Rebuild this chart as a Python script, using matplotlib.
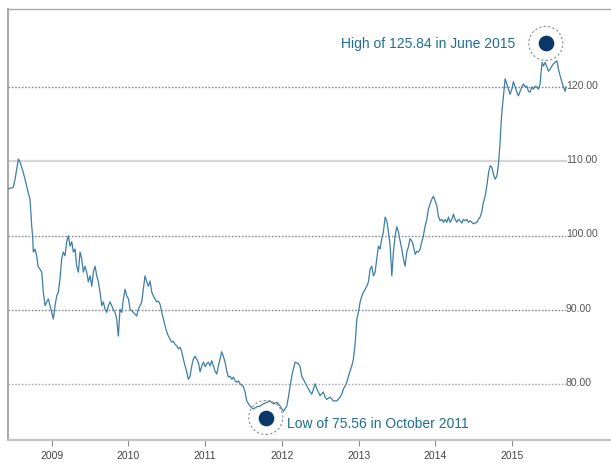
import matplotlib
matplotlib.use("Agg")
import matplotlib.pyplot as plt
import matplotlib.transforms as mtransforms

plt.rcParams["font.family"] = ["Liberation Sans", "DejaVu Sans"]

# Weekly index level, dates as decimal years
years = [
    2008.434, 2008.499, 2008.522, 2008.565, 2008.587, 2008.626, 2008.652, 2008.691, 2008.717, 2008.739,
    2008.752, 2008.760, 2008.782, 2008.804, 2008.821, 2008.847, 2008.870, 2008.890, 2008.913, 2008.935,
    2008.956, 2008.978, 2009.000, 2009.021, 2009.043, 2009.065, 2009.086, 2009.108, 2009.130, 2009.151,
    2009.173, 2009.196, 2009.216, 2009.239, 2009.261, 2009.282, 2009.304, 2009.326, 2009.347, 2009.369,
    2009.391, 2009.412, 2009.434, 2009.456, 2009.477, 2009.499, 2009.522, 2009.542, 2009.565, 2009.587,
    2009.608, 2009.630, 2009.652, 2009.673, 2009.695, 2009.717, 2009.738, 2009.760, 2009.782, 2009.803,
    2009.825, 2009.847, 2009.868, 2009.890, 2009.913, 2009.934, 2009.956, 2009.978, 2010.000, 2010.021,
    2010.064, 2010.108, 2010.129, 2010.173, 2010.216, 2010.239, 2010.259, 2010.282, 2010.304, 2010.325,
    2010.347, 2010.369, 2010.390, 2010.412, 2010.434, 2010.455, 2010.477, 2010.499, 2010.520, 2010.542,
    2010.565, 2010.585, 2010.608, 2010.630, 2010.651, 2010.673, 2010.695, 2010.716, 2010.738, 2010.760,
    2010.781, 2010.803, 2010.825, 2010.846, 2010.868, 2010.890, 2010.911, 2010.934, 2010.956, 2010.977,
    2011.000, 2011.021, 2011.042, 2011.064, 2011.086, 2011.107, 2011.129, 2011.151, 2011.172, 2011.194,
    2011.216, 2011.237, 2011.259, 2011.282, 2011.302, 2011.325, 2011.347, 2011.368, 2011.390, 2011.412,
    2011.433, 2011.455, 2011.498, 2011.520, 2011.542, 2011.585, 2011.628, 2011.673, 2011.716, 2011.759,
    2011.803, 2011.846, 2011.889, 2011.934, 2011.977, 2012.020, 2012.064, 2012.085, 2012.107, 2012.129,
    2012.150, 2012.172, 2012.215, 2012.237, 2012.259, 2012.280, 2012.325, 2012.346, 2012.368, 2012.390,
    2012.411, 2012.433, 2012.455, 2012.476, 2012.498, 2012.541, 2012.563, 2012.585, 2012.628, 2012.671,
    2012.716, 2012.759, 2012.781, 2012.802, 2012.824, 2012.846, 2012.867, 2012.889, 2012.911, 2012.932,
    2012.954, 2012.977, 2012.997, 2013.020, 2013.042, 2013.063, 2013.085, 2013.107, 2013.128, 2013.150,
    2013.172, 2013.193, 2013.215, 2013.237, 2013.258, 2013.280, 2013.302, 2013.323, 2013.346, 2013.368,
    2013.389, 2013.411, 2013.433, 2013.454, 2013.476, 2013.498, 2013.519, 2013.541, 2013.563, 2013.584,
    2013.606, 2013.628, 2013.649, 2013.671, 2013.694, 2013.714, 2013.737, 2013.759, 2013.780, 2013.802,
    2013.824, 2013.845, 2013.867, 2013.889, 2013.910, 2013.932, 2013.954, 2013.975, 2013.997, 2014.020,
    2014.040, 2014.063, 2014.085, 2014.106, 2014.128, 2014.150, 2014.171, 2014.193, 2014.215, 2014.236,
    2014.258, 2014.280, 2014.301, 2014.323, 2014.346, 2014.366, 2014.389, 2014.411, 2014.432, 2014.454,
    2014.476, 2014.497, 2014.541, 2014.562, 2014.584, 2014.606, 2014.627, 2014.649, 2014.671, 2014.692,
    2014.714, 2014.737, 2014.757, 2014.780, 2014.802, 2014.823, 2014.845, 2014.858, 2014.871, 2014.888,
    2014.910, 2014.932, 2014.953, 2014.975, 2014.997, 2015.018, 2015.040, 2015.063, 2015.083, 2015.106,
    2015.128, 2015.149, 2015.171, 2015.193, 2015.214, 2015.236, 2015.258, 2015.279, 2015.301, 2015.323,
    2015.344, 2015.366, 2015.379, 2015.392, 2015.409, 2015.432, 2015.454, 2015.475, 2015.497, 2015.519,
    2015.540, 2015.562, 2015.584, 2015.605, 2015.627, 2015.649, 2015.670, 2015.692, 2015.705,
]

index_level = [
    106.3, 106.5, 107.6, 110.3, 109.9, 108.6, 107.6, 105.9, 104.9, 101.3,
    99.8, 97.8, 98.2, 97.3, 95.9, 95.5, 95.1, 92.4, 90.6, 91.1,
    91.5, 90.6, 89.7, 88.8, 90.6, 91.9, 92.4, 94.2, 96.9, 97.8,
    97.3, 99.2, 100.0, 98.6, 99.2, 97.8, 98.2, 95.9, 95.1, 97.8,
    96.9, 95.1, 95.9, 95.1, 93.8, 94.6, 93.2, 95.1, 95.9, 94.6,
    93.8, 92.4, 90.6, 91.1, 90.1, 89.7, 90.6, 91.1, 90.6, 90.1,
    89.7, 88.8, 86.5, 90.1, 89.7, 91.5, 92.8, 91.9, 91.5, 90.1,
    89.7, 89.2, 90.1, 91.1, 94.6, 93.8, 93.2, 93.9, 92.4, 91.9,
    91.5, 91.1, 91.2, 90.8, 89.7, 88.8, 87.9, 87.1, 86.5, 86.1,
    85.7, 85.8, 85.4, 85.2, 84.8, 85.0, 84.4, 83.4, 82.5, 81.7,
    80.7, 81.1, 82.5, 83.4, 83.8, 83.4, 83.0, 81.7, 82.5, 83.0,
    82.4, 82.8, 83.0, 82.5, 83.2, 82.5, 81.8, 81.4, 82.5, 83.4,
    84.4, 83.8, 83.0, 81.8, 81.0, 81.1, 80.7, 81.0, 80.5, 80.3,
    80.5, 80.1, 79.7, 79.0, 77.8, 77.1, 76.7, 77.0, 77.1, 77.4,
    77.6, 77.8, 77.4, 77.6, 77.1, 76.4, 77.1, 78.3, 79.8, 81.1,
    82.1, 83.0, 82.8, 82.4, 81.1, 80.7, 79.8, 79.4, 79.0, 78.7,
    79.4, 80.1, 79.4, 79.0, 78.5, 79.0, 78.3, 78.0, 78.3, 77.8,
    77.8, 78.3, 78.7, 79.4, 79.8, 80.3, 81.1, 81.8, 82.5, 83.4,
    85.4, 88.8, 89.7, 91.1, 91.9, 92.4, 92.8, 93.2, 93.8, 95.5,
    95.9, 94.6, 95.1, 96.9, 98.6, 98.2, 99.6, 100.5, 102.5, 102.0,
    100.5, 98.6, 94.6, 97.8, 100.0, 101.2, 100.5, 99.3, 98.2, 96.9,
    95.9, 97.8, 98.5, 99.6, 99.3, 98.6, 97.5, 97.9, 97.8, 98.2,
    99.2, 100.0, 101.3, 102.2, 103.6, 104.3, 104.9, 105.3, 104.7, 104.0,
    102.6, 102.0, 102.2, 101.8, 102.2, 101.8, 102.5, 101.8, 102.2, 102.9,
    102.2, 101.8, 102.2, 102.0, 101.7, 102.2, 102.0, 102.2, 101.8, 102.0,
    101.8, 101.6, 101.8, 102.2, 102.5, 103.2, 104.5, 105.3, 106.7, 108.3,
    109.4, 109.2, 108.3, 107.6, 108.0, 109.6, 112.6, 115.3, 117.0, 118.8,
    121.1, 120.4, 119.7, 119.0, 119.7, 120.7, 120.0, 119.3, 118.8, 119.4,
    120.0, 120.4, 120.0, 120.1, 119.4, 119.3, 120.0, 119.7, 120.1, 120.0,
    119.7, 120.4, 122.0, 123.3, 122.8, 123.3, 122.7, 122.1, 122.4, 122.8,
    123.1, 123.3, 123.5, 122.4, 121.5, 120.7, 120.0, 119.4, 120.0,
]

tick_years = [2009, 2010, 2011, 2012, 2013, 2014, 2015]
tick_labels = ["2009", "2010", "2011", "2012", "2013", "2014", "2015"]
grid_levels = [80, 90, 100, 110, 120]

low_point = (2011.79, 75.56)
low_label = "Low of 75.56 in October 2011"
high_point = (2015.44, 125.84)
high_label = "High of 125.84 in June 2015"

LINE = "#3d7ea6"
NAVY = "#0b3768"
TEXT = "#1f6e93"

fig = plt.figure(figsize=(6.11, 4.64), dpi=100)
ax = fig.add_axes([8 / 611, 23 / 464, 603 / 611, 431 / 464])
ax.set_xlim(2008.43, 2016.29)
ax.set_ylim(72.54, 130.47)

# horizontal reference lines (stop short of the right-hand value labels)
grid_style = {
    80: dict(color="#b0b0b0", linestyle=(0, (1.2, 1.2)), linewidth=1.0),
    90: dict(color="#8a8a8a", linestyle=(0, (1.2, 1.2)), linewidth=1.0),
    100: dict(color="#8a8a8a", linestyle=(0, (1.2, 1.2)), linewidth=1.0),
    110: dict(color="#d6d6d6", linestyle="-", linewidth=1.6),
    120: dict(color="#8a8a8a", linestyle=(0, (1.2, 1.2)), linewidth=1.0),
}
trans = mtransforms.blended_transform_factory(ax.transAxes, ax.transData)
for lvl in grid_levels:
    ax.axhline(lvl, xmin=0, xmax=0.925, zorder=1, **grid_style[lvl])
    ax.text(0.925, lvl + 0.3, f"{lvl:.2f}", transform=trans, ha="left", va="center",
            fontsize=7.5, color="#555555")

ax.plot(years, index_level, color=LINE, linewidth=0.9, zorder=3)

# highlighted extremes
for pt in (low_point, high_point):
    ax.scatter([pt[0]], [pt[1]], s=600, facecolors="none", edgecolors="#8c8c8c",
               linestyles=(0, (2, 2)), linewidths=0.8, zorder=4)
    ax.scatter([pt[0]], [pt[1]], s=105, color=NAVY, zorder=5)

ax.annotate(low_label, xy=low_point, xytext=(15, -4), textcoords="offset points",
            ha="left", va="center", fontsize=10, color=TEXT)
ax.annotate(high_label, xy=high_point, xytext=(-22, 0), textcoords="offset points",
            ha="right", va="center", fontsize=10, color=TEXT)

ax.set_xticks(tick_years)
ax.set_xticklabels(tick_labels)
ax.set_yticks([])
ax.tick_params(axis="x", direction="out", length=4, width=0.8, color="#888888",
               labelsize=7.5, labelcolor="#444444", pad=3)

for side in ("top", "left", "bottom"):
    ax.spines[side].set_color("#a8a8a8")
ax.spines["top"].set_linewidth(1.0)
ax.spines["left"].set_linewidth(1.4)
ax.spines["bottom"].set_linewidth(1.6)
ax.spines["bottom"].set_color("#c4c4c4")
ax.spines["right"].set_visible(False)

fig.savefig("out.png", dpi=100, facecolor="white")
